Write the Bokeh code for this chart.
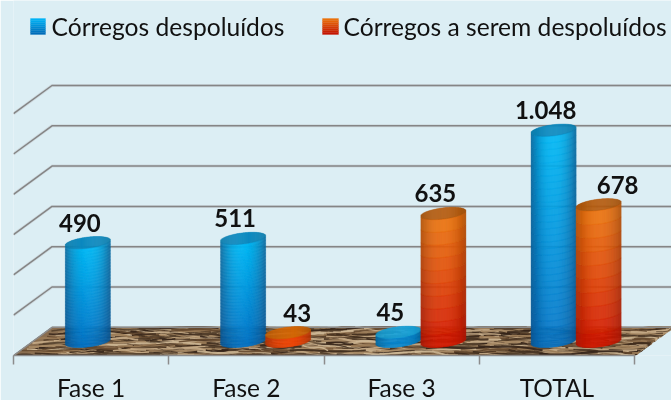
import math
from bokeh.plotting import figure
from bokeh.models import LinearAxis, FixedTicker, Range1d
from bokeh.core.properties import value
from bokeh.embed import file_html
from bokeh.resources import INLINE

categories = ["Fase 1", "Fase 2", "Fase 3", "TOTAL"]
despoluidos = [490, 511, 45, 1048]
a_serem = [0, 43, 635, 678]
label_desp = ["490", "511", "45", "1.048"]
label_serem = ["", "43", "635", "678"]
legend_names = ["Córregos despoluídos", "Córregos a serem despoluídos"]
grid_values = [0, 200, 400, 600, 800, 1000, 1200]

W, H = 671, 400
LEFT, BOTTOM = 13, 355
PX_X = 155.25      # pixels per category
PX_Y = 0.2015      # pixels per unit
BG = "#DCEEF4"
FONT = "Lato"
DEPTH_X = 38.5 / PX_X
DEPTH_Y = 140.0
BAR_W = 0.29
BAR_Y0 = DEPTH_Y / 2

def X(px):
    return (px - LEFT) / PX_X

def Y(py):
    return (BOTTOM - py) / PX_Y

def mix(a, b, t):
    t = max(0.0, min(1.0, t))
    return tuple(a[i] + (b[i] - a[i]) * t for i in range(3))

def hexc(c):
    return "#%02x%02x%02x" % tuple(int(round(v)) for v in c)

p = figure(width=W, height=H, output_backend="svg", toolbar_location=None,
           x_range=Range1d(X(LEFT), X(W)), y_range=Range1d(0, Y(0)),
           x_axis_location=None, y_axis_location=None,
           min_border_left=LEFT, min_border_right=0, min_border_top=0, min_border_bottom=0,
           frame_height=BOTTOM, frame_width=W - LEFT,
           background_fill_color=BG, border_fill_color=BG, outline_line_color=None)
p.styles = {"position": "fixed", "left": "0", "top": "0"}
p.grid.visible = False

# category axis: ticks between the groups, labels at their centres
axis = LinearAxis(ticker=FixedTicker(ticks=[i + 0.5 for i in range(len(categories))],
                                     minor_ticks=list(range(len(categories) + 1))),
                  bounds=(0, len(categories)),
                  major_label_overrides={i + 0.5: c for i, c in enumerate(categories)},
                  major_tick_out=0, major_tick_in=0, minor_tick_out=9, minor_tick_in=0,
                  major_label_standoff=8, major_label_text_font=FONT,
                  major_label_text_font_size="24.5px", major_label_text_color="#111111",
                  axis_line_color="#8c8c8c", axis_line_width=1.5,
                  minor_tick_line_color="#8c8c8c", minor_tick_line_width=1.5)
p.add_layout(axis, "below")

# floor
fx = [0, len(categories), len(categories) + DEPTH_X, DEPTH_X]
fy = [0, 0, DEPTH_Y, DEPTH_Y]
p.patch(fx, fy, fill_color="#8a6e50", line_color="#7d6a55", line_width=1)
tones = ["#3f2c1d", "#c4aa86", "#54402c", "#a98b66", "#35251a", "#cdb795", "#65492f", "#9a7b57"]
xs, ys, cols, wid = [], [], [], []
PHI1, PHI2 = 0.7548776662, 0.5698402910
for i in range(800):
    u0 = (i * PHI1) % 1.0
    v0 = (i * PHI2) % 1.0
    length = 0.04 + 0.09 * ((i * 0.381966) % 1.0)
    sl = 0.10 * math.sin(i * 0.37) + 0.10 * math.sin(i * 1.7) - 0.04
    sx, sy = [], []
    for k in range(11):
        f = k / 10
        u = min(1.0, u0 + length * f)
        v = min(1.0, max(0.0, v0 + sl * f + 0.03 * math.sin(f * 7 + i)))
        sx.append(u * len(categories) + v * DEPTH_X)
        sy.append(v * DEPTH_Y)
    xs.append(sx); ys.append(sy)
    cols.append(tones[i % len(tones)])
    wid.append(0.8 + (i % 3) * 0.6)
p.multi_line(xs, ys, line_color=cols, line_width=wid, line_alpha=0.9)

# 3D gridlines
gx = [[0, DEPTH_X, len(categories) + DEPTH_X] for v in grid_values[1:]]
gy = [[v, v + DEPTH_Y, v + DEPTH_Y] for v in grid_values[1:]]
p.multi_line(gx, gy, line_color="#c4cdd2", line_width=3, line_alpha=0.6)
p.multi_line(gx, gy, line_color="#858585", line_width=1.5)
bx = [[0, DEPTH_X, len(categories) + DEPTH_X]]
by = [[0, DEPTH_Y, DEPTH_Y]]
p.multi_line(bx, by, line_color="#8c8c8c", line_width=1.5)

BLUE = dict(top_c=(0, 184, 245), top_e=(14, 108, 160), bot_c=(8, 116, 198), bot_e=(10, 86, 148),
            cap=(12, 138, 192), disc_side=(8, 140, 215), disc_cap=(24, 165, 222))
ORANGE = dict(top_c=(238, 118, 14), top_e=(180, 88, 12), bot_c=(212, 20, 0), bot_e=(168, 20, 6),
              cap=(182, 92, 14), disc_side=(240, 72, 10), disc_cap=(212, 104, 8))

MINOR = 5.6 / PX_Y
TILT = 2.6 / PX_Y

def cylinder(cx, val, pal):
    if val <= 0:
        return
    n_cols, n_rows = 46, (10 if val > 100 else 2)
    if pal is BLUE and val > 100:
        n_rows = 32
    disc = val < 100
    y0 = BAR_Y0
    y1 = BAR_Y0 + val
    left, right, bottom, top, color = [], [], [], [], []
    for c in range(n_cols):
        t0 = -1 + 2 * c / n_cols
        t1 = -1 + 2 * (c + 1) / n_cols
        t = (t0 + t1) / 2
        root = math.sqrt(max(0.0, 1 - t * t))
        x0 = cx + t0 * BAR_W / 2
        x1 = cx + t1 * BAR_W / 2
        lo_b = y0 + TILT * t - MINOR * root
        lo_t = y1 + TILT * t - MINOR * root
        hi_t = y1 + TILT * t + MINOR * root
        shade = 1 - abs(t) ** 2.2
        for r in range(n_rows):
            f0, f1 = r / n_rows, (r + 1) / n_rows
            h = 1 - (r + 0.5) / n_rows
            if disc:
                col = mix(mix(pal["disc_side"], (0, 0, 0), 0.25), pal["disc_side"], shade)
            else:
                col = mix(mix(pal["top_e"], pal["bot_e"], h), mix(pal["top_c"], pal["bot_c"], h), shade)
            left.append(x0); right.append(x1)
            bottom.append(lo_b + (lo_t - lo_b) * f0)
            top.append(lo_b + (lo_t - lo_b) * f1)
            color.append(hexc(col))
        capc = pal["disc_cap"] if disc else pal["cap"]
        left.append(x0); right.append(x1)
        bottom.append(lo_t); top.append(hi_t)
        color.append(hexc(mix(mix(capc, (0, 0, 0), 0.12), capc, shade)))
    p.quad(left=left, right=right, bottom=bottom, top=top,
           fill_color=color, line_color=color, line_width=0.4)

for i in range(len(categories)):
    center = i + 0.5 + DEPTH_X / 2
    cylinder(center - BAR_W / 2, despoluidos[i], BLUE)
    cylinder(center + BAR_W / 2, a_serem[i], ORANGE)

# value labels
lx, ly, lt, ox = [], [], [], []
for i in range(len(categories)):
    center = i + 0.5 + DEPTH_X / 2
    if label_desp[i]:
        lx.append(center - BAR_W / 2); ly.append(BAR_Y0 + despoluidos[i]); lt.append(label_desp[i]); ox.append(-8)
    if label_serem[i]:
        lx.append(center + BAR_W / 2); ly.append(BAR_Y0 + a_serem[i]); lt.append(label_serem[i])
        ox.append(9 if a_serem[i] < 100 else (19 if i == 3 else -8))
p.text(lx, ly, text=lt, x_offset=ox, y_offset=-20, text_align="center", text_baseline="middle",
       text_font=value(FONT), text_font_style="bold", text_font_size="24px", text_color="#111111")

# legend
swatches = [(30, 45, (0, 178, 245), (0, 108, 185)), (322, 338, (234, 112, 10), (196, 20, 0))]
for (a, b, ct, cb), tx, name in zip(swatches, [51, 343], legend_names):
    N = 8
    for k in range(N):
        yy0 = 18 + 16 * k / N
        yy1 = 18 + 16 * (k + 1) / N
        cc = hexc(mix(ct, cb, k / (N - 1)))
        p.quad(left=X(a), right=X(b), top=Y(yy0), bottom=Y(yy1), fill_color=cc, line_color=cc, line_width=0.3)
    p.text([X(tx)], [Y(26)], text=[name], text_align="left", text_baseline="middle",
           text_font=value(FONT), text_font_size="24.6px", text_color="#111111")

open("out.html", "w").write(file_html(p, INLINE))
